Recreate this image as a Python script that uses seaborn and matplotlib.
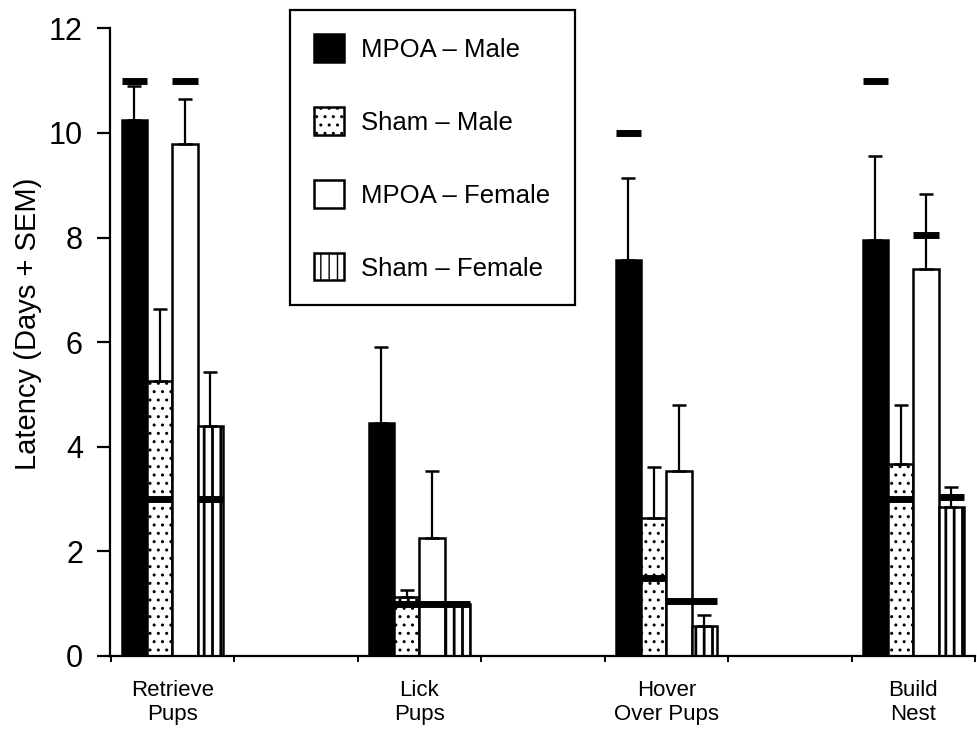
import numpy as np
import pandas as pd
import matplotlib
matplotlib.use("Agg")
import matplotlib.pyplot as plt
import seaborn as sns

# Behaviours on the x axis and the four treatment groups
behaviors = ["Retrieve\nPups", "Lick\nPups", "Hover\nOver Pups", "Build\nNest"]
groups = ["MPOA – Male", "Sham – Male", "MPOA – Female", "Sham – Female"]

# Mean latency (days), one value per behaviour
mpoa_male = [10.25, 4.45, 7.57, 7.95]
sham_male = [5.25, 1.12, 2.64, 3.67]
mpoa_female = [9.78, 2.25, 3.54, 7.40]
sham_female = [4.40, 1.00, 0.57, 2.84]

# Standard error of the mean (drawn upward only)
mpoa_male_sem = [0.65, 1.46, 1.57, 1.60]
sham_male_sem = [1.39, 0.15, 0.97, 1.13]
mpoa_female_sem = [0.87, 1.29, 1.26, 1.44]
sham_female_sem = [1.03, 0.00, 0.22, 0.39]

# Median latency, shown as a thick dash (NaN = not shown)
mpoa_male_median = [11.0, np.nan, 10.0, 11.0]
sham_male_median = [3.0, 1.0, 1.5, 3.0]
mpoa_female_median = [11.0, 1.0, 1.05, 8.05]
sham_female_median = [3.0, 1.0, 1.05, 3.04]

means = [mpoa_male, sham_male, mpoa_female, sham_female]
sems = [mpoa_male_sem, sham_male_sem, mpoa_female_sem, sham_female_sem]
medians = [mpoa_male_median, sham_male_median, mpoa_female_median, sham_female_median]

df = pd.DataFrame({
    "behavior": [b for _ in groups for b in behaviors],
    "group": [g for g in groups for _ in behaviors],
    "latency": [v for series in means for v in series],
})

sns.set_style("ticks")
plt.rcParams.update({
    "font.family": ["Liberation Sans", "DejaVu Sans"],
    "text.color": "black",
    "axes.labelcolor": "black",
    "xtick.color": "black",
    "ytick.color": "black",
    "axes.edgecolor": "black",
    "hatch.color": "black",
    "hatch.linewidth": 1.0,
})

fig = plt.figure(figsize=(9.78, 7.31), dpi=100)
ax = fig.add_axes([0.1125, 0.1026, 0.8845, 0.8587])

fills = ["black", "white", "white", "white"]
hatches = ["", "..", "", "||"]

sns.barplot(data=df, x="behavior", y="latency", hue="group",
            order=behaviors, hue_order=groups, palette=fills,
            width=0.41, edgecolor="black", linewidth=1.8,
            errorbar=None, legend=False, ax=ax, zorder=2)

bar_containers = list(ax.containers)

for container, hatch, sem, med in zip(bar_containers, hatches, sems, medians):
    xs, tops = [], []
    for bar in container.patches:
        bar.set_hatch(hatch)
        if hatch == "||" and hasattr(bar, "set_hatch_linewidth"):
            bar.set_hatch_linewidth(2.0)
        xs.append(bar.get_x() + bar.get_width() / 2)
        tops.append(bar.get_height())
    ax.errorbar(xs, tops, yerr=[np.zeros(len(sem)), sem], fmt="none",
                ecolor="black", elinewidth=1.6, capsize=5, capthick=1.8,
                zorder=3)
    for bar, m in zip(container.patches, med):
        if np.isfinite(m):
            ax.hlines(m, bar.get_x(), bar.get_x() + bar.get_width(),
                      colors="black", linewidth=5, zorder=4)

ax.set_ylim(0, 12)
ax.set_xlim(-0.252, 3.212)
ax.set_yticks([0, 2, 4, 6, 8, 10, 12])
ax.set_ylabel("Latency (Days + SEM)", fontsize=21)
ax.yaxis.set_label_coords(-0.079, 0.53)
ax.set_xlabel("")
ax.tick_params(axis="y", labelsize=22, length=9.5, width=1.6, direction="out", pad=10)
ax.tick_params(axis="x", labelsize=16, length=0, pad=17)
ax.set_xticks(np.arange(-0.25, 3.3, 0.5), minor=True)
ax.tick_params(axis="x", which="minor", length=4, width=1.4, direction="out")

for side in ["top", "right"]:
    ax.spines[side].set_visible(False)
for side in ["left", "bottom"]:
    ax.spines[side].set_linewidth(1.6)

handles = [c.patches[0] for c in bar_containers]
leg = fig.legend(handles, groups, loc="upper left",
                 bbox_to_anchor=(290 / 978, 1 - 10 / 731),
                 borderaxespad=0,
                 fontsize=18.5, frameon=True, fancybox=False,
                 edgecolor="black", framealpha=1,
                 handlelength=1.17, handleheight=1.25, handletextpad=0.66,
                 labelspacing=1.78, borderpad=0.95)
leg.get_frame().set_linewidth(1.6)

fig.savefig("out.png", dpi=100)
